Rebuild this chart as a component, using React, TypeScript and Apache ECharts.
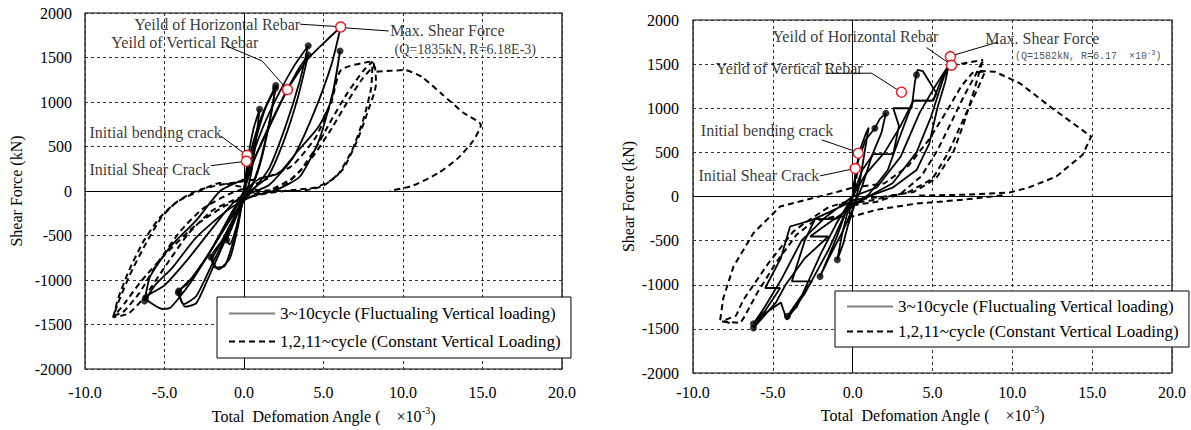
import { useEffect, useRef } from "react";
import * as echarts from "echarts";

type P = [number, number];

const SERIF = "Liberation Serif";
const MONO = "Liberation Mono";

// ---------- axes ----------
const X_MIN = -10;
const X_MAX = 20;
const X_STEP = 5;
const Y_MIN = -2000;
const Y_MAX = 2000;
const Y_STEP = 500;
const yTitle = "Shear Force (kN)";
const xTitle = "Total  Defomation Angle (    ×10^{-3})";
const legendNames = [
  "3~10cycle (Fluctualing Vertical loading)",
  "1,2,11~cycle (Constant Vertical Loading)",
];

// ---------- LEFT panel data ----------
const leftSolid: P[][] = [
  [[0, 0], [0.1, 160], [0.3, 420], [0.6, 700], [0.98, 918], [0.8, 640], [0.5, 250], [0.25, 40], [0, -60], [-0.4, -250], [-0.8, -430], [-1.08, -551], [-0.9, -600], [-0.5, -420], [-0.2, -180], [0, 0]],
  [[0, 0], [0.2, 260], [0.6, 560], [1.2, 880], [1.98, 1154], [1.6, 780], [1.0, 320], [0.5, 60], [0, -110], [-0.7, -330], [-1.4, -560], [-2.08, -745], [-1.8, -860], [-1.2, -840], [-0.6, -520], [-0.2, -200], [0, 0]],
  [[0, 0], [0.3, 280], [0.8, 620], [1.4, 960], [2.0, 1185], [1.7, 860], [1.1, 360], [0.6, 90], [0, -80], [-0.6, -290], [-1.4, -570], [-2.0, -770], [-1.6, -880], [-0.9, -760], [-0.4, -420], [0, 0]],
  [[0, 0], [0.4, 320], [1.2, 720], [2.2, 1100], [3.2, 1420], [4.04, 1633], [3.5, 1230], [2.6, 720], [1.6, 260], [0.8, 60], [0, -100], [-1.0, -360], [-2.2, -700], [-3.3, -980], [-4.13, -1143], [-3.8, -1270], [-3.0, -1180], [-2.0, -820], [-1.0, -460], [-0.3, -160], [0, 0]],
  [[0, 0], [0.6, 330], [1.6, 740], [2.7, 1130], [3.5, 1390], [4.04, 1529], [3.4, 1060], [2.5, 560], [1.5, 160], [0.6, 30], [-0.2, -100], [-1.2, -400], [-2.4, -760], [-3.6, -1050], [-4.1, -1125], [-3.7, -1300], [-3.0, -1260], [-2.2, -960], [-1.2, -560], [-0.3, -200], [0, 0]],
  [[0, 0], [0.5, 300], [1.5, 680], [2.73, 1139], [4.0, 1480], [5.0, 1660], [6.08, 1843], [5.5, 1420], [4.4, 880], [3.1, 380], [1.6, 70], [0.5, -20], [-0.6, -120], [-2.0, -420], [-3.5, -760], [-5.0, -1060], [-6.19, -1199], [-5.1, -1326], [-4.6, -1307], [-3.4, -1040], [-2.0, -640], [-0.8, -250], [0, 0]],
  [[0, 0], [1.0, 140], [2.19, 199], [3.44, 461], [4.69, 723], [5.5, 1023], [6.04, 1573], [5.6, 1120], [4.7, 560], [3.5, 160], [2.0, 10], [0.5, -60], [-1.0, -210], [-3.0, -520], [-4.5, -860], [-5.6, -1060], [-6.25, -1236], [-5.9, -960], [-4.6, -620], [-3.0, -330], [-1.5, 0], [0, 130]],
];
const leftDashed: P[][] = [
  [[0, 0], [0.1, 140], [0.25, 260], [0.1, 90], [0, 0], [-0.1, -130], [-0.25, -240], [-0.1, -80], [0, 0]],
  [[0, -60], [1.0, -20], [2.5, 60], [3.5, 220], [4.5, 480], [5.5, 800], [6.5, 1100], [7.5, 1350], [8.08, 1453], [8.0, 1160], [7.5, 800], [6.8, 460], [5.8, 160], [4.5, 40], [3.0, 10], [1.0, -40], [-1.0, -150], [-3.0, -380], [-5.0, -720], [-6.5, -1020], [-7.5, -1260], [-8.23, -1420], [-7.25, -1375], [-6.3, -1200], [-5.0, -860], [-3.5, -480], [-2.0, -220], [-0.5, -90], [0, -60]],
  [[0, -60], [1.5, 0], [3.0, 140], [4.3, 380], [5.5, 700], [6.5, 1000], [7.4, 1250], [8.2, 1400], [8.3, 1200], [7.8, 900], [7.1, 560], [6.2, 240], [5.0, 60], [3.5, 0], [1.0, 10], [-0.5, 60], [-1.5, 90], [-2.8, 0], [-4.2, -120], [-5.2, -300], [-6.2, -600], [-7.2, -950], [-7.9, -1250], [-8.2, -1400], [-7.6, -1360], [-6.6, -1150], [-5.4, -800], [-4.0, -450], [-2.6, -200], [-1.0, -40], [0.5, 60], [1.5, 140]],
  [[-8.23, -1420], [-7.9, -1200], [-7.2, -880], [-6.3, -560], [-5.3, -300], [-4.2, -120], [-3.0, 0], [-1.5, 70], [0, 110], [1.5, 160], [3.0, 280], [4.5, 600], [5.5, 1000], [6.1, 1360], [8.08, 1453], [8.3, 1340], [9.2, 1350], [10.1, 1360], [11.2, 1280], [12.5, 1080], [13.8, 880], [14.9, 742], [14.4, 560], [13.4, 360], [12.2, 199], [10.6, 60], [9.17, 0]],
];
const leftDots: P[] = [[0.98, 918], [1.98, 1154], [2.0, 1185], [4.04, 1633], [4.04, 1529], [6.04, 1573], [-1.08, -551], [-2.08, -745], [-4.13, -1143], [-4.1, -1125], [-6.19, -1199], [-6.25, -1236]];
const leftEvents: P[] = [[6.08, 1843], [2.73, 1139], [0.19, 401], [0.15, 334]];
const leftLeaders: P[][] = [
  [[3.54, 1874], [5.85, 1848]],
  [[6.3, 1834], [9.1, 1798]],
  [[-1.14, 1633], [1.14, 1461], [2.55, 1175]],
  [[-1.46, 618], [0.0, 424]],
  [[-2.08, 284], [-0.12, 329]],
];
const leftNotes = ["Yeild of Horizontal Rebar", "Max. Shear Force", "(Q=1835kN, R=6.18E-3)", "Yeild of Vertical Rebar", "Initial bending crack", "Initial Shear Crack"];
const leftNoteAnchors: P[] = [[3.56, 1866], [9.17, 1798], [9.44, 1585], [-8.375, 1663], [-9.75, 652], [-9.75, 247]];

// ---------- RIGHT panel data ----------
const rightSolid: P[][] = [
  [[0, 0], [0.2, 300], [0.5, 550], [0.8, 700], [1.0, 780], [0.7, 450], [0.4, 120], [0.1, -100], [-0.3, -330], [-0.6, -540], [-0.96, -717], [-0.7, -460], [-0.3, -160], [0, 0]],
  [[0, 0], [0.3, 380], [0.8, 640], [1.39, 774], [1.7, 880], [2.08, 944], [1.8, 720], [1.2, 460], [0.6, 120], [0, -150], [-0.7, -420], [-1.5, -700], [-2.04, -906], [-1.6, -720], [-1.0, -460], [-0.4, -160], [0, 0]],
  [[0, 0], [0.6, 300], [1.29, 480], [2.54, 480], [2.9, 800], [2.54, 1000], [3.69, 1000], [3.9, 1300], [4.06, 1434], [4.4, 1420], [5.25, 1170], [5.04, 1087], [3.8, 1087], [3.0, 700], [2.2, 300], [1.0, 20], [0, -100], [-1.0, -250], [-1.52, -255], [-2.36, -255], [-3.0, -500], [-3.81, -962], [-2.56, -962], [-3.5, -1200], [-4.09, -1358], [-3.5, -1250], [-2.0, -650], [-1.0, -300], [0, 0]],
  [[0, 0], [0.8, 250], [2.0, 500], [3.0, 800], [3.8, 1087], [5.04, 1087], [5.5, 1300], [5.9, 1450], [6.19, 1487], [6.12, 1585], [5.8, 1300], [5.3, 1000], [4.8, 600], [4.0, 300], [2.5, 100], [1.0, 0], [0, -50], [-1.5, -180], [-2.6, -270], [-3.92, -340], [-4.5, -700], [-5.48, -1037], [-4.54, -1037], [-5.5, -1300], [-6.21, -1441], [-5.5, -1250], [-4.5, -950], [-3.2, -500], [-1.8, -250], [0, 0]],
  [[0, 0], [1.5, 100], [3.0, 450], [4.2, 950], [5.0, 1200], [5.7, 1400], [6.0, 1480], [5.7, 1350], [4.9, 900], [4.0, 500], [2.5, 150], [0.5, -50], [-1.5, -300], [-2.67, -453], [-1.52, -453], [-3.0, -700], [-4.2, -1000], [-4.8, -1200], [-6.21, -1490], [-5.7, -1350], [-4.5, -1200], [-4.13, -1396], [-3.0, -1100], [-1.5, -600], [0, 0]],
];
const rightDashed: P[][] = [
  [[0, 0], [0.15, 200], [0.3, 300], [0.15, 100], [0, 0], [-0.15, -200], [-0.3, -300], [-0.15, -100], [0, 0]],
  [[0, -100], [1.5, -60], [3.0, 30], [4.3, 230], [5.3, 520], [6.2, 850], [7.0, 1150], [7.7, 1380], [8.17, 1547], [7.96, 1423], [7.6, 1200], [7.0, 850], [6.3, 500], [5.2, 200], [3.8, 50], [2.0, 0], [0, -40], [-1.5, -120], [-3.0, -300], [-3.71, -396], [-5.27, -754], [-6.84, -1169], [-7.3, -1350], [-8.19, -1415], [-7.04, -1433], [-6.8, -1370], [-6.0, -1100], [-4.8, -750], [-3.5, -430], [-2.46, -283], [-1.2, -230], [0, -226], [1.5, -150], [4.0, -80], [6.9, -37], [9.63, 19]],
  [[0, 100], [2.0, 150], [3.5, 350], [4.8, 650], [6.0, 1000], [6.8, 1250], [7.5, 1400], [8.3, 1420], [7.9, 1250], [7.0, 900], [6.0, 500], [5.0, 200], [3.5, 50], [1.0, -50], [-1.0, -100]],
  [[0.5, 150], [0, 100], [-1.0, 50], [-2.9, -37], [-4.54, -113], [-6.21, -414], [-7.46, -792], [-8.1, -1150], [-8.3, -1400], [-7.6, -1440]],
  [[6.19, 1487], [6.6, 1499], [8.17, 1547]],
  [[7.96, 1423], [8.9, 1415], [10.5, 1280], [12.5, 1000], [14.94, 679], [14.4, 472], [12.75, 226], [11.0, 100], [9.83, 45], [7.0, 20], [4.0, 10]],
];
const rightDots: P[] = [[1.39, 774], [2.08, 944], [4.0, 1378], [-0.96, -717], [-2.04, -906], [-4.09, -1358], [-6.21, -1441], [-6.21, -1490]];
const rightEvents: P[] = [[6.12, 1585], [6.19, 1487], [3.06, 1182], [0.35, 491], [0.16, 317]];
const rightLeaders: P[][] = [
  [[4.63, 1687], [6.0, 1515]],
  [[6.3, 1600], [9.1, 1750]],
  [[-1.63, 1397], [1.19, 1397], [2.85, 1205]],
  [[-1.94, 642], [0.1, 515]],
  [[-2.04, 234], [-0.05, 310]],
];
const rightNotes = ["Yeild of Horizontal Rebar", "Max. Shear Force", "(Q=1582kN, R=6.17  ×10^{-3})", "Yeild of Vertical Rebar", "Initial bending crack", "Initial Shear Crack"];
const rightNoteAnchors: P[] = [[-5.06, 1811], [8.27, 1793], [10.14, 1585], [-8.61, 1453], [-9.54, 744], [-9.69, 234]];

// ---------- layout (not data) ----------
const GRIDS = [
  { left: 85, top: 13, width: 477, height: 356 },
  { left: 693, top: 20, width: 479, height: 353 },
];

function richify(s: string, base: string): string {
  const parts = s.split(/\^\{(.*?)\}/);
  let out = "";
  parts.forEach((p, i) => {
    if (!p) return;
    out += i % 2 === 1 ? `{sup|${p}}` : `{${base}|${p}}`;
  });
  return out;
}

type Panel = {
  solid: P[][];
  dashed: P[][];
  dots: P[];
  events: P[];
  leaders: P[][];
  notes: string[];
  anchors: P[];
  sides: ("left" | "right")[];
  sizes: number[];
  mono: boolean[];
  smooth: number;
};

const panels: Panel[] = [
  {
    solid: leftSolid, dashed: leftDashed, dots: leftDots, events: leftEvents, leaders: leftLeaders,
    notes: leftNotes, anchors: leftNoteAnchors,
    sides: ["left", "right", "right", "right", "right", "right"],
    sizes: [16, 16, 14, 16, 16, 16],
    mono: [false, false, false, false, false, false],
    smooth: 0.2,
  },
  {
    solid: rightSolid, dashed: rightDashed, dots: rightDots, events: rightEvents, leaders: rightLeaders,
    notes: rightNotes, anchors: rightNoteAnchors,
    sides: ["right", "right", "right", "right", "right", "right"],
    sizes: [16, 16, 10, 16, 16, 16],
    mono: [false, false, true, false, false, false],
    smooth: 0,
  },
];

function panelSeries(i: number, p: Panel): any[] {
  const ax = { xAxisIndex: i, yAxisIndex: i };
  const s: any[] = [];
  s.push({
    type: "line", ...ax, data: [[0, 0]], symbol: "none", silent: true, lineStyle: { width: 0 }, z: 1,
    markLine: {
      symbol: "none", silent: true, animation: false, label: { show: false },
      lineStyle: { color: "#000", width: 1, type: "solid" },
      data: [{ xAxis: 0 }, { yAxis: 0 }],
    },
  });
  p.dashed.forEach((d) =>
    s.push({ type: "line", ...ax, data: d, symbol: "none", silent: true, smooth: p.smooth, lineStyle: { color: "#000", width: 2, type: [6, 4] }, z: 2 })
  );
  p.solid.forEach((d) =>
    s.push({ type: "line", ...ax, data: d, symbol: "none", silent: true, smooth: p.smooth, lineStyle: { color: "#000", width: 1.8 }, z: 3 })
  );
  s.push({ type: "scatter", ...ax, data: p.dots, symbolSize: 7, itemStyle: { color: "#000" }, silent: true, z: 4 });
  p.leaders.forEach((d) =>
    s.push({ type: "line", ...ax, data: d, symbol: "none", silent: true, lineStyle: { color: "#000", width: 1 }, z: 5 })
  );
  s.push({
    type: "scatter", ...ax, data: p.events, symbolSize: 10, silent: true, z: 6,
    itemStyle: { color: "#fff", borderColor: "#e8141a", borderWidth: 1.4, opacity: 1 },
  });
  s.push({
    type: "scatter", ...ax, symbolSize: 1, silent: true, z: 7,
    itemStyle: { color: "transparent" },
    data: p.notes.map((t, k) => {
      const mono = p.mono[k];
      const fam = mono ? MONO : SERIF;
      return {
        value: p.anchors[k],
        label: {
          show: true,
          position: p.sides[k],
          distance: 0,
          formatter: () => richify(t, "m"),
          rich: {
            m: { fontFamily: fam, fontSize: p.sizes[k], color: mono ? "#222" : "#000", lineHeight: p.sizes[k] + 4 },
            sup: { fontFamily: fam, fontSize: Math.round(p.sizes[k] * 0.7), color: mono ? "#222" : "#000", lineHeight: 8, verticalAlign: "top" },
          },
        },
      };
    }),
  });
  return s;
}

function buildOption(): any {
  const series: any[] = [];
  panels.forEach((p, i) => series.push(...panelSeries(i, p)));
  series.push({ type: "line", name: legendNames[0], xAxisIndex: 0, yAxisIndex: 0, data: [], symbol: "none", itemStyle: { color: "rgba(0,0,0,0)", borderWidth: 0 }, lineStyle: { color: "#808080", width: 1.5 } });
  series.push({ type: "line", name: legendNames[1], xAxisIndex: 0, yAxisIndex: 0, data: [], symbol: "none", itemStyle: { color: "rgba(0,0,0,0)", borderWidth: 0 }, lineStyle: { color: "#000", width: 2, type: [6, 4] } });

  const nameStyle = {
    fontFamily: SERIF, fontSize: 16, color: "#000",
    rich: {
      m: { fontFamily: SERIF, fontSize: 16, color: "#000", lineHeight: 22 },
      sup: { fontFamily: SERIF, fontSize: 10, color: "#000", lineHeight: 10, verticalAlign: "top" },
    },
  };

  return {
    animation: false,
    backgroundColor: "#fff",
    textStyle: { fontFamily: SERIF, color: "#000" },
    grid: GRIDS.map((g) => ({ ...g, show: true, borderColor: "#000", borderWidth: 1.2, backgroundColor: "transparent" })),
    xAxis: GRIDS.map((_, i) => ({
      type: "value", gridIndex: i, min: X_MIN, max: X_MAX, interval: X_STEP,
      axisLine: { show: false }, axisTick: { show: false },
      axisLabel: { color: "#000", fontFamily: SERIF, fontSize: 16, margin: i === 0 ? 15 : 11, formatter: (v: number) => v.toFixed(1) },
      splitLine: { show: true, lineStyle: { color: "#333", width: 1, type: [3, 3] } },
      name: richify(xTitle, "m"), nameLocation: "middle", nameGap: i === 0 ? 36 : 31, nameTextStyle: nameStyle,
    })),
    yAxis: GRIDS.map((_, i) => ({
      type: "value", gridIndex: i, min: Y_MIN, max: Y_MAX, interval: Y_STEP,
      axisLine: { show: false }, axisTick: { show: false },
      axisLabel: { color: "#000", fontFamily: SERIF, fontSize: 16, margin: i === 0 ? 13 : 14, formatter: (v: number) => String(v) },
      splitLine: { show: true, lineStyle: { color: "#333", width: 1, type: [3, 3] } },
      name: yTitle, nameLocation: "middle", nameGap: i === 0 ? 61 : 57,
      nameTextStyle: { fontFamily: SERIF, fontSize: 16, color: "#000" },
    })),
    legend: [
      { left: 217, top: 297, padding: [8, 10, 8, 11], itemGap: 11 },
      { left: 835, top: 291, padding: [7, 10, 7, 11], itemGap: 8 },
    ].map((l) => ({
      ...l,
      orient: "vertical", data: legendNames, selectedMode: false,
      itemWidth: 46, itemHeight: 14,
      itemStyle: { opacity: 0 },
      borderColor: "#000", borderWidth: 1, backgroundColor: "#fff", borderRadius: 0,
      textStyle: { fontFamily: SERIF, fontSize: 17, color: "#000" },
      z: 20,
    })),
    series,
  };
}

export default function App() {
  const ref = useRef<HTMLDivElement>(null);
  useEffect(() => {
    if (!ref.current) return;
    const chart = echarts.init(ref.current, undefined, { renderer: "svg" });
    chart.setOption(buildOption());
    return () => chart.dispose();
  }, []);
  return (
    <div
      ref={ref}
      style={{ position: "fixed", left: 0, top: 0, width: 1191, height: 430, background: "#fff" }}
    />
  );
}
